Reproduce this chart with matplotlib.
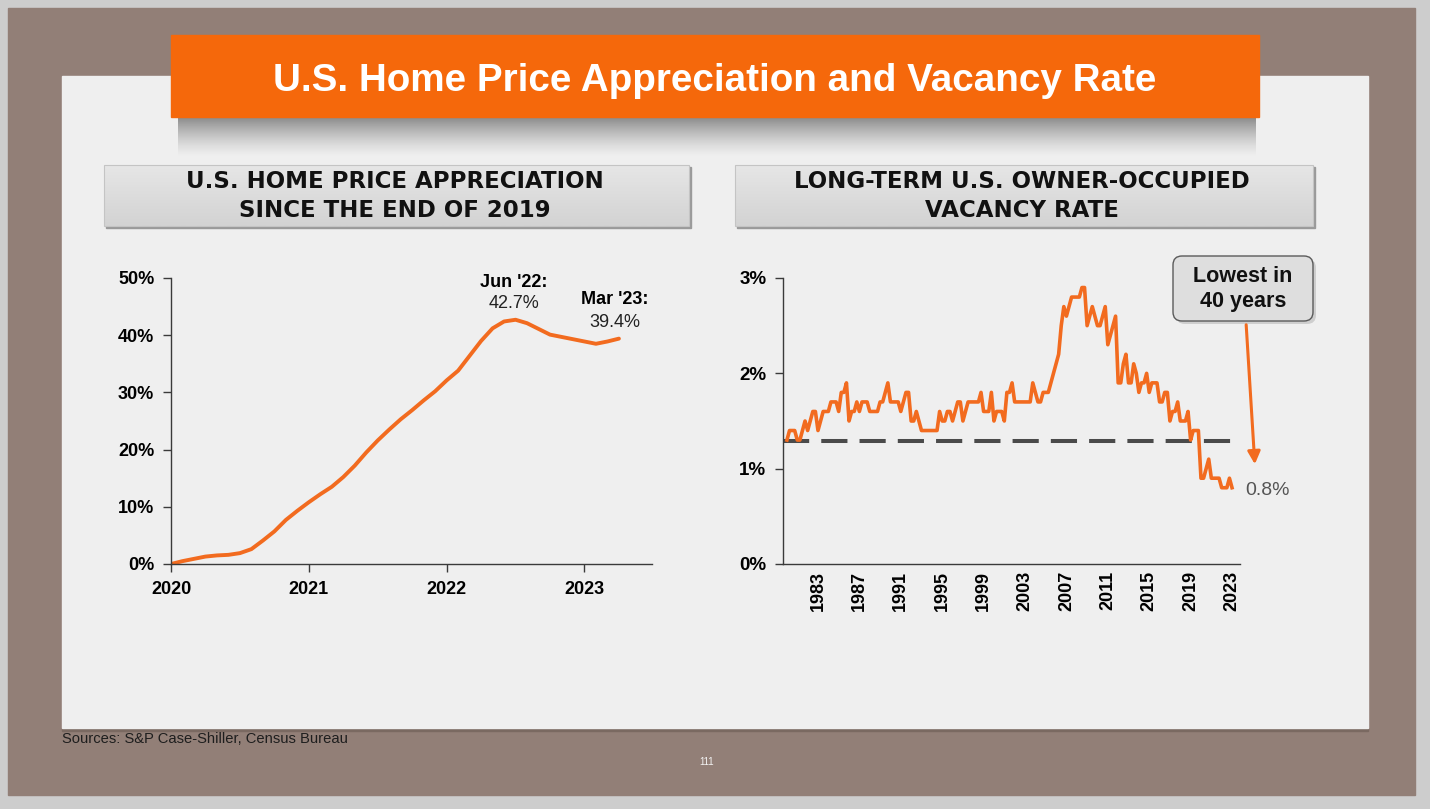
import numpy as np
import matplotlib.pyplot as plt
from matplotlib.colors import LinearSegmentedColormap
from matplotlib.patches import Rectangle, FancyBboxPatch, FancyArrowPatch

plt.rcParams['font.family'] = ['Liberation Sans', 'DejaVu Sans']

# left chart: cumulative home price appreciation since Dec 2019 (monthly, %)
hpa_start = 2020.0
hpa_values = [0.0, 0.5, 0.9, 1.3, 1.5, 1.6, 1.9, 2.6, 4.1, 5.7, 7.7, 9.3,
              10.8, 12.2, 13.5, 15.2, 17.2, 19.5, 21.6, 23.5, 25.3, 26.9, 28.6, 30.2,
              32.1, 33.8, 36.4, 39.0, 41.2, 42.4, 42.7, 42.1, 41.1, 40.1, 39.7, 39.3,
              38.9, 38.5, 38.9, 39.4]
hpa_years = [2020, 2021, 2022, 2023]
hpa_yticks = [0, 10, 20, 30, 40, 50]

# right chart: owner-occupied vacancy rate (quarterly from 1980 Q1, %)
vac_start = 1980.0
vac_values = [1.3, 1.4, 1.4, 1.4, 1.3, 1.3, 1.4, 1.5, 1.4, 1.5,
              1.6, 1.6, 1.4, 1.5, 1.6, 1.6, 1.6, 1.7, 1.7, 1.7,
              1.6, 1.8, 1.8, 1.9, 1.5, 1.6, 1.6, 1.7, 1.6, 1.7,
              1.7, 1.7, 1.6, 1.6, 1.6, 1.6, 1.7, 1.7, 1.8, 1.9,
              1.7, 1.7, 1.7, 1.7, 1.6, 1.7, 1.8, 1.8, 1.5, 1.5,
              1.6, 1.5, 1.4, 1.4, 1.4, 1.4, 1.4, 1.4, 1.4, 1.6,
              1.5, 1.5, 1.6, 1.6, 1.5, 1.6, 1.7, 1.7, 1.5, 1.6,
              1.7, 1.7, 1.7, 1.7, 1.7, 1.8, 1.6, 1.6, 1.6, 1.8,
              1.5, 1.6, 1.6, 1.6, 1.5, 1.8, 1.8, 1.9, 1.7, 1.7,
              1.7, 1.7, 1.7, 1.7, 1.7, 1.9, 1.8, 1.7, 1.7, 1.8,
              1.8, 1.8, 1.9, 2.0, 2.1, 2.2, 2.5, 2.7, 2.6, 2.7,
              2.8, 2.8, 2.8, 2.8, 2.9, 2.9, 2.5, 2.6, 2.7, 2.6,
              2.5, 2.5, 2.6, 2.7, 2.3, 2.4, 2.5, 2.6, 1.9, 1.9,
              2.1, 2.2, 1.9, 1.9, 2.1, 2.0, 1.8, 1.9, 1.9, 2.0,
              1.8, 1.9, 1.9, 1.9, 1.7, 1.7, 1.8, 1.8, 1.5, 1.6,
              1.6, 1.7, 1.5, 1.5, 1.5, 1.6, 1.3, 1.4, 1.4, 1.4,
              0.9, 0.9, 1.0, 1.1, 0.9, 0.9, 0.9, 0.9, 0.8, 0.8,
              0.8, 0.9, 0.8]
vac_average = 1.29
vac_years = [1983, 1987, 1991, 1995, 1999, 2003, 2007, 2011, 2015, 2019, 2023]
vac_yticks = [0, 1, 2, 3]

W, H = 1430, 809
orange = '#f26b1f'
axis_col = '#3a3a3a'


def fig_box(x0, y0, x1, y1):
    # pixel box (top-left origin) -> figure fraction rect
    return [x0 / W, 1 - y1 / H, (x1 - x0) / W, (y1 - y0) / H]


fig = plt.figure(figsize=(W / 100, H / 100), dpi=100, facecolor='#cdcdcd')

# ---- backdrop in pixel coordinates
bg = fig.add_axes([0, 0, 1, 1], zorder=0)
bg.axis('off')
bg.add_patch(Rectangle((8, 8), 1407, 787, color='#927f77', zorder=0))
bg.add_patch(Rectangle((62, 728), 1306, 3, color='#7a6961', zorder=0.5))
bg.add_patch(Rectangle((62, 76), 1306, 652, color='#efefef', zorder=0.5))

shadow = np.zeros((40, 2, 4))
shadow[:, :, 3] = 0.42 * np.linspace(1.0, 0.0, 40)[:, None] ** 1.4
bg.imshow(shadow, extent=(178, 1256, 158, 117), aspect='auto', interpolation='bilinear', zorder=1)
bg.add_patch(Rectangle((171, 35), 1088, 82, color='#f5680b', zorder=2))
bg.text(715, 81, 'U.S. Home Price Appreciation and Vacancy Rate', ha='center', va='center',
        color='white', fontsize=27.8, fontweight='bold', zorder=3)

grey_grad = LinearSegmentedColormap.from_list('g', ['#e6e6e6', '#d3d3d3'])
grad = np.linspace(0, 1, 50).reshape(-1, 1)
for x0, x1 in [(104, 689), (735, 1313)]:
    bg.add_patch(Rectangle((x0 + 2, 167), x1 - x0, 61, color='#9a9a9a', zorder=1))
    bg.imshow(grad, cmap=grey_grad, extent=(x0, x1, 226, 165), aspect='auto', zorder=2)
    bg.add_patch(Rectangle((x0, 165), x1 - x0, 61, fill=False, ec='#c4c4c4', lw=0.8, zorder=3))

bg.text(395, 196, 'U.S. HOME PRICE APPRECIATION\nSINCE THE END OF 2019', ha='center', va='center',
        fontsize=16.5, fontweight='bold', family='DejaVu Sans', color='#111111',
        linespacing=1.28, zorder=4)
bg.text(1022, 196, 'LONG-TERM U.S. OWNER-OCCUPIED\nVACANCY RATE', ha='center', va='center',
        fontsize=16.5, fontweight='bold', family='DejaVu Sans', color='#111111',
        linespacing=1.28, zorder=4)

bg.text(62, 739, 'Sources: S&P Case-Shiller, Census Bureau', va='center', fontsize=10.6,
        color='#1e1e1e', zorder=4)
bg.text(707, 762, '111', ha='center', va='center', fontsize=7, color='#f2f2f2', zorder=4)
bg.set_xlim(0, W)
bg.set_ylim(H, 0)

# ---- left chart
ax1 = fig.add_axes(fig_box(171, 278, 652, 564), zorder=1)
ax1.set_facecolor('none')
hpa_x = hpa_start + np.arange(len(hpa_values)) / 12
ax1.plot(hpa_x, hpa_values, color=orange, lw=2.8, solid_capstyle='round')
ax1.set_xlim(2020, 2023.49)
ax1.set_ylim(0, 50)
ax1.set_xticks(hpa_years)
ax1.set_xticklabels([str(y) for y in hpa_years], fontweight='bold', fontsize=13)
ax1.set_yticks(hpa_yticks)
ax1.set_yticklabels([f'{v}%' for v in hpa_yticks], fontweight='bold', fontsize=13)
ax1.tick_params(axis='y', length=6, width=1, color=axis_col, pad=6)
ax1.tick_params(axis='x', length=6, width=1, color=axis_col, pad=6)
ax1.text(2022.49, 49.3, "Jun '22:", ha='center', va='center', fontsize=13, fontweight='bold')
ax1.text(2022.49, 45.6, '42.7%', ha='center', va='center', fontsize=13, color='#222222')
ax1.text(2023.22, 46.2, "Mar '23:", ha='center', va='center', fontsize=13, fontweight='bold', clip_on=False)
ax1.text(2023.22, 42.3, '39.4%', ha='center', va='center', fontsize=13, color='#222222', clip_on=False)

# ---- right chart
ax2 = fig.add_axes(fig_box(783, 278, 1240, 564), zorder=1)
ax2.set_facecolor('none')
vac_x = vac_start + np.arange(len(vac_values)) / 4
ax2.plot([1979.62, 2023.6], [vac_average, vac_average], color='#4a4a4a', lw=2.9,
         dashes=(6.5, 3), zorder=1)
ax2.plot(vac_x, vac_values, color=orange, lw=2.6, zorder=2)
ax2.set_xlim(1979.62, 2023.77)
ax2.set_ylim(0, 3)
ax2.set_xticks(vac_years)
ax2.set_xticklabels([str(y) for y in vac_years], rotation=90, fontweight='bold', fontsize=13)
ax2.set_yticks(vac_yticks)
ax2.set_yticklabels([f'{v}%' for v in vac_yticks], fontweight='bold', fontsize=13.5)
ax2.tick_params(axis='y', length=6, width=1, color=axis_col, pad=6)
ax2.tick_params(axis='x', length=0, pad=5)

for ax in (ax1, ax2):
    for side in ('top', 'right'):
        ax.spines[side].set_visible(False)
    for side in ('left', 'bottom'):
        ax.spines[side].set_color(axis_col)
        ax.spines[side].set_linewidth(1)

# ---- callout overlay
ov = fig.add_axes([0, 0, 1, 1], zorder=2)
ov.axis('off')
ov.set_xlim(0, W)
ov.set_ylim(H, 0)
ov.add_patch(FancyBboxPatch((1176, 259), 140, 65, boxstyle='round,pad=0,rounding_size=9',
                            fc='#b8b8b8', ec='none', alpha=0.6))
ov.add_patch(FancyBboxPatch((1173, 256), 140, 65, boxstyle='round,pad=0,rounding_size=9',
                            fc='#dedede', ec='#5a5a5a', lw=1))
ov.text(1243, 289, 'Lowest in\n40 years', ha='center', va='center', fontsize=15.5,
        fontweight='bold', color='#111111')
ov.add_patch(FancyArrowPatch((1246, 322), (1255, 467), arrowstyle='-|>,head_length=5,head_width=2.5',
                             color=orange, lw=2.2, mutation_scale=1.5))
ov.text(1245, 490, '0.8%', ha='left', va='center', fontsize=14, color='#555555')

fig.savefig('out.png', dpi=100, facecolor=fig.get_facecolor())
